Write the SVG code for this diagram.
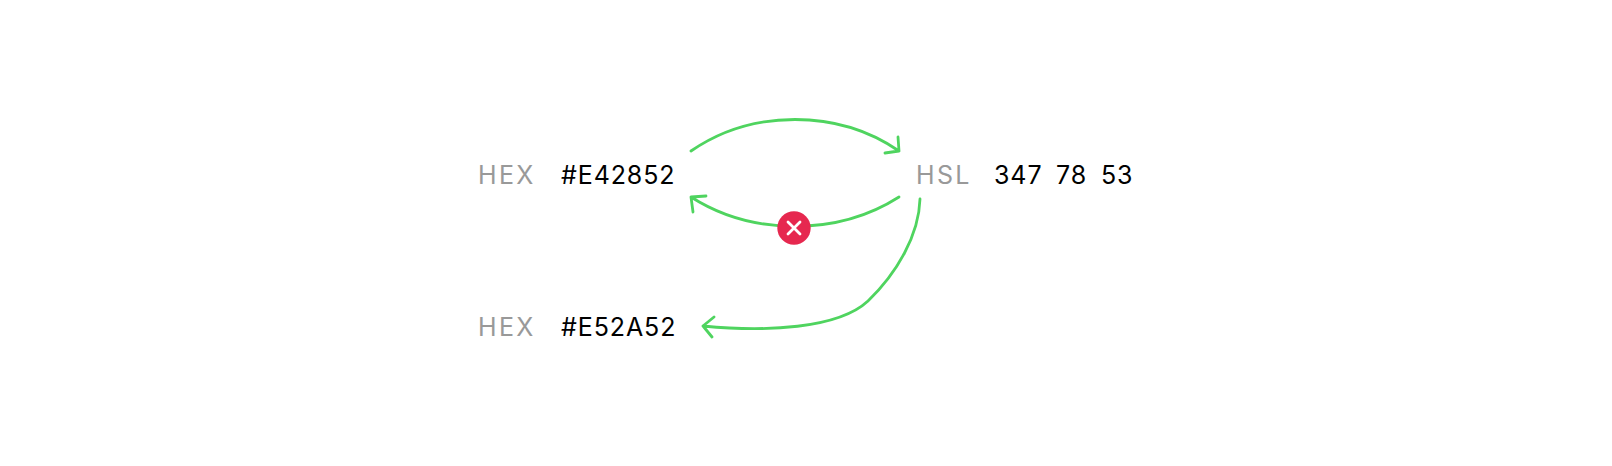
<svg xmlns="http://www.w3.org/2000/svg" width="1612" height="466" viewBox="0 0 1612 466">
<style>
text{font-family:Inter,"Liberation Sans",sans-serif;font-size:25px}
.k{fill:#999;letter-spacing:2.3px}.v{fill:#000;letter-spacing:.9px}
.c{fill:none;stroke:#4fd45f;stroke-width:2.8;stroke-linecap:round;stroke-linejoin:round}
</style>
<rect width="1612" height="466" fill="#fff"/>
<g id="connectors">
<path class="c" d="M691 151C752 109 838 109 899 151M898 137L899 151L885 153"/>
<path class="c" d="M899 197C838 236 752 236 691 197M693 212L691 197L706 196"/>
<path class="c" d="M920 199C919 235 897 273 868 301C838 329 765 332 703 326M714 317L703 326L712 337"/>
</g>
<g id="hex1"><text class="k" x="478" y="183.500">HEX</text><text class="v" x="561" y="183.500">#E42852</text></g>
<g id="hsl"><text class="k" x="916" y="183.500">HSL</text><text class="v" x="994" y="183.500">347</text><text class="v" x="1056" y="183.500">78</text><text class="v" x="1101" y="183.500">53</text></g>
<g id="hex2"><text class="k" x="478" y="335.500">HEX</text><text class="v" x="561" y="335.500">#E52A52</text></g>
<g id="cross"><circle cx="794" cy="228" r="16.700" fill="#e6284f"/><path d="M788 222L800 234M800 222L788 234" stroke="#fff" stroke-width="2.800" stroke-linecap="round"/></g>
</svg>
